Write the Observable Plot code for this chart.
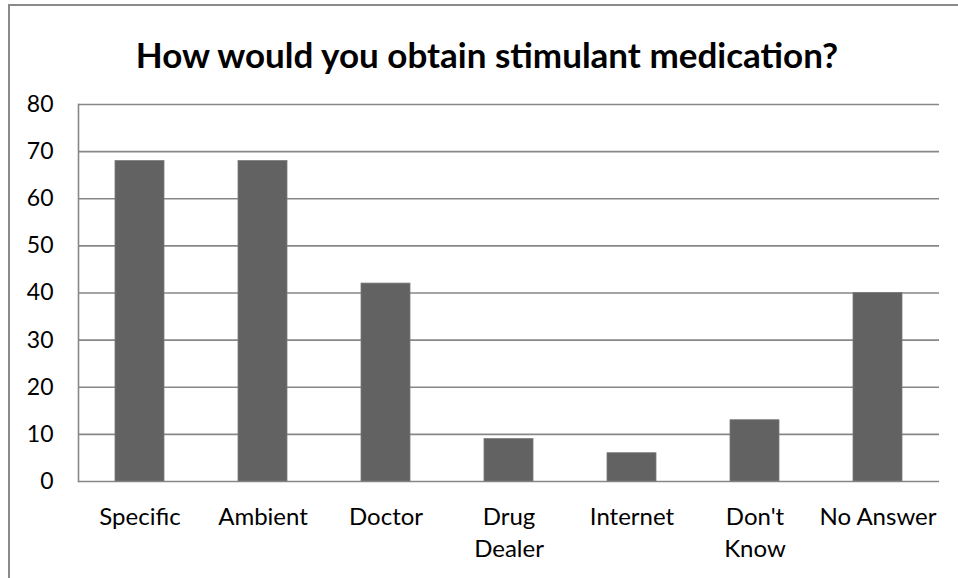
<!DOCTYPE html>
<html>
<head>
<meta charset="utf-8">
<script src="https://cdn.jsdelivr.net/npm/d3@7"></script>
<script src="https://cdn.jsdelivr.net/npm/@observablehq/plot@0.6"></script>
<style>
  html, body { margin: 0; padding: 0; background: #fff; }
  #frame {
    position: relative; width: 958px; height: 578px; overflow: hidden;
    font-family: Lato, "Liberation Sans", sans-serif;
  }
  #border {
    position: absolute; left: 8px; top: 4px; width: 1000px; height: 1000px;
    border-left: 2px solid #8a8a8a; border-top: 2px solid #8a8a8a;
  }
  #title {
    position: absolute; left: 0; top: 19px; width: 958px; height: 70px;
    text-align: center; line-height: 70px; padding-left: 16px; box-sizing: border-box;
    font-weight: bold; font-size: 35px; color: #000; white-space: nowrap;
  }
  #chart { position: absolute; left: 0; top: 70px; }
</style>
</head>
<body>
<div id="frame">
  <div id="border"></div>
  <div id="title">How would you obtain stimulant medication?</div>
  <div id="chart"></div>
</div>
<script>
// Answers to "How would you obtain stimulant medication?"
const categories = ["Specific", "Ambient", "Doctor", "Drug\nDealer", "Internet", "Don't\nKnow", "No Answer"];
const counts = [68, 68, 42, 9, 6, 13, 40];
const yTicks = [0, 10, 20, 30, 40, 50, 60, 70, 80];

const rows = categories.map((c, i) => ({category: c, count: counts[i]}));
const grid = "#878787";

const chart = Plot.plot({
  width: 958,
  height: 508,
  marginTop: 34,
  marginLeft: 78,
  marginRight: 19,
  marginBottom: 97,
  style: {fontFamily: "Lato, 'Liberation Sans', sans-serif", fontSize: "23px", color: "#000", background: "transparent"},
  x: {domain: categories, paddingInner: 0.6, paddingOuter: 0.3, label: null},
  y: {domain: [0, 80], label: null},
  marks: [
    Plot.ruleY(yTicks, {stroke: grid, strokeWidth: 1.6}),
    Plot.frame({anchor: "left", stroke: grid, strokeWidth: 1.6}),
    Plot.barY(rows, {x: "category", y: "count", fill: "#626262", stroke: "#7a7a7a", strokeWidth: 0.8}),
    Plot.axisY({ticks: yTicks, tickSize: 0, tickPadding: 25, fontSize: 23, fill: "#000"}),
    Plot.axisX({tickSize: 0, tickPadding: 20, fontSize: 24, fill: "#000", lineHeight: 1.35, textAnchor: "middle"})
  ]
});
document.getElementById("chart").append(chart);
</script>
</body>
</html>
